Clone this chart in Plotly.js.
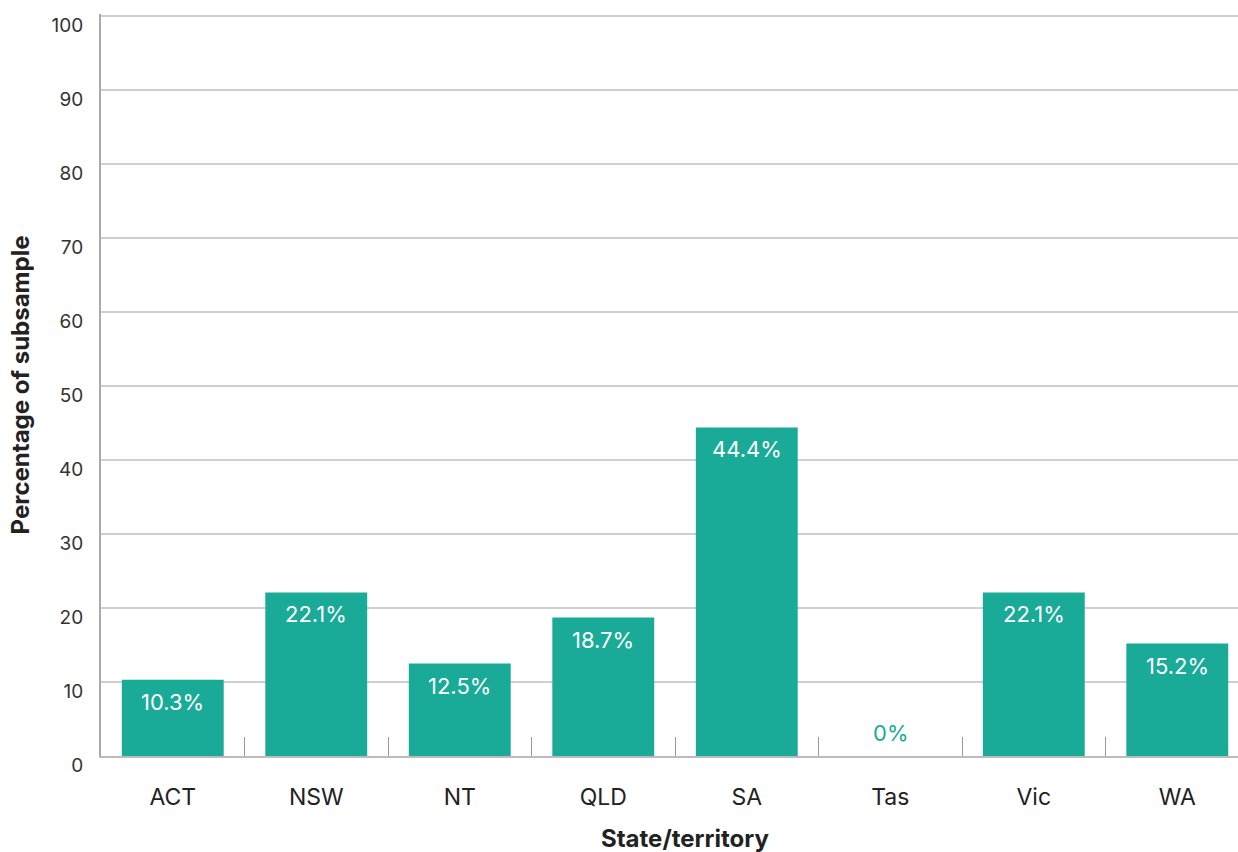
<!DOCTYPE html>
<html>
<head>
<meta charset="utf-8">
<script src="https://cdn.plot.ly/plotly-3.0.1.min.js"></script>
<style>
  html, body { margin: 0; padding: 0; background: #fff; }
  #chart { width: 1238px; height: 852px; }
</style>
</head>
<body>
<div id="chart"></div>
<script>
// State/territory shares
var states = ['ACT', 'NSW', 'NT', 'QLD', 'SA', 'Tas', 'Vic', 'WA'];
var shares = [10.3, 22.1, 12.5, 18.7, 44.4, 0, 22.1, 15.2];
var yTicks = [0, 10, 20, 30, 40, 50, 60, 70, 80, 90, 100];

var teal = '#19ab97';
var font = 'Inter, "Noto Sans", sans-serif';

var data = [{
  type: 'bar',
  x: states,
  y: shares,
  marker: { color: teal },
  hoverinfo: 'x+y'
}];

// value labels: white inside the bar top, teal above the axis for empty bars
var labels = states.map(function (s, i) {
  var v = shares[i];
  return {
    x: s,
    y: v,
    xref: 'x',
    yref: 'y',
    text: v + '%',
    showarrow: false,
    yanchor: 'middle',
    yshift: v > 0 ? -22 : 23,
    font: { family: font, size: 22, color: v > 0 ? '#ffffff' : teal }
  };
});

labels.push({
  text: 'State/territory',
  xref: 'paper', yref: 'paper',
  x: 0.514, y: 0,
  yshift: -82,
  showarrow: false,
  yanchor: 'middle',
  font: { family: font, size: 24, color: '#222', weight: 700 }
});

var layout = {
  width: 1238,
  height: 852,
  margin: { l: 101, r: 0, t: 14, b: 96 },
  paper_bgcolor: '#fff',
  plot_bgcolor: '#fff',
  font: { family: font, size: 19, color: '#333' },
  bargap: 0.29,
  showlegend: false,
  xaxis: {
    type: 'category',
    range: [-0.5, 7.423],
    tickson: 'boundaries',
    ticks: 'inside',
    ticklen: 19,
    tickwidth: 1,
    tickcolor: '#999',
    showgrid: false,
    showline: true,
    linecolor: '#bbb',
    linewidth: 2,
    ticklabelstandoff: 19,
    tickfont: { family: font, size: 23, color: '#222' }
  },
  yaxis: {
    range: [0, 100.27],
    tickvals: yTicks,
    ticktext: yTicks.map(String),
    ticks: '',
    showgrid: true,
    gridcolor: '#cfcfcf',
    gridwidth: 1.5,
    zeroline: false,
    showline: true,
    linecolor: '#aaa',
    linewidth: 2,
    ticklabelstandoff: 12,
    ticklabelshift: 9,
    tickfont: { family: font, size: 19, color: '#333' },
    title: {
      text: 'Percentage of subsample',
      font: { family: font, size: 24, color: '#222', weight: 700 },
      standoff: 15
    }
  },
  annotations: labels
};

Plotly.newPlot('chart', data, layout, { displayModeBar: false, staticPlot: true });
</script>
</body>
</html>
